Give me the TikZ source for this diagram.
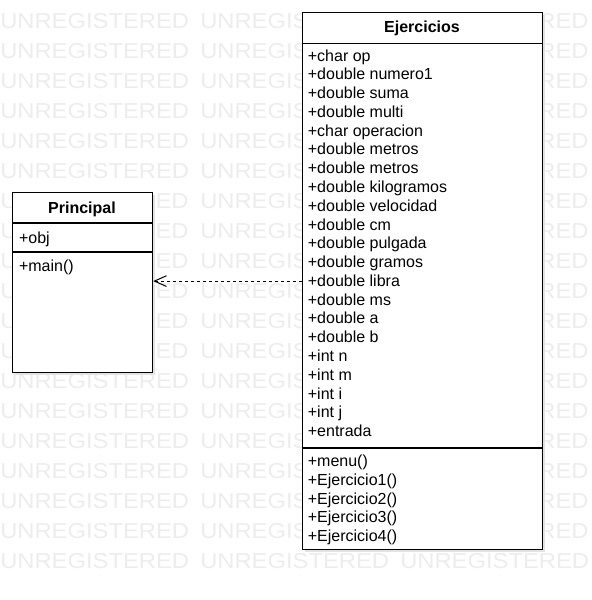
\documentclass[tikz,border=0pt]{standalone}
\usepackage{fontspec}
\setmainfont{Liberation Sans}
\usetikzlibrary{arrows.meta}
\newcommand{\wmw}[1]{\scalebox{1.1}[1]{#1}}
\begin{document}
\begin{tikzpicture}[x=0.75pt,y=-0.75pt,
  wm/.style={anchor=base west, inner sep=0, text=black!7, font=\fontsize{16.2}{16.2}\selectfont},
  wmend/.style={wm, anchor=base east},
  umlbox/.style={draw=black, line width=0.9pt, fill=white, anchor=north west, inner sep=0},
  shadowbox/.style={fill=black!11, anchor=north west, inner sep=0, draw=none},
  member/.style={anchor=base west, inner sep=0, font=\fontsize{12}{14}\selectfont},
  umltitle/.style={anchor=base, inner sep=0, font=\bfseries\fontsize{12}{14}\selectfont},
  sep/.style={line width=0.9pt},
  dep/.style={line width=0.75pt, dash pattern=on 2.5pt off 2pt, -{Straight Barb[length=9pt,width=8pt]}}]
\useasboundingbox (0,0) rectangle (592,600);
\fill[white] (0,0) rectangle (592,600);
% watermark, column 1
\foreach \r in {0,...,5,12,13,...,18} {
  \node[wm] (wa\r) at (0,{28.5+30*\r}) {\wmw{UNREGISTERED}};
}
\foreach \r in {6,...,11} {
  \node[wm] (wa\r) at (0,{28.5+30*\r}) {\wmw{U}};
  \node[wmend] (wb\r) at (188.8,{28.5+30*\r}) {\wmw{ED}};
}
% watermark, columns 2 and 3
\foreach \r in {0,...,17} {
  \node[wm] (wc\r) at (200,{28.5+30*\r}) {\wmw{UNREGIS}};
  \node[wmend] (wd\r) at (588.8,{28.5+30*\r}) {\wmw{RED}};
}
\node[wm] (wc18) at (200,568.5) {\wmw{UNREGISTERED}};
\node[wm] (wd18) at (400,568.5) {\wmw{UNREGISTERED}};
% shadows
\node[shadowbox, minimum width=105pt, minimum height=135pt] (prs) at (15,195) {};
\node[shadowbox, minimum width=180pt, minimum height=402.75pt] (ejs) at (305,15) {};
% boxes
\node[umlbox, minimum width=105pt, minimum height=135pt] (pr) at (12,192) {};
\node[umlbox, minimum width=180pt, minimum height=402.75pt] (ej) at (302,12) {};
% separators
\draw[sep] (12,223) -- (152,223);
\draw[sep] (12,252) -- (152,252);
\draw[sep] (302,43.3) -- (542,43.3);
\draw[sep] (302,448) -- (542,448);
% titles
\node[umltitle] (prt) at (82,213) {Principal};
\node[umltitle] (ejt) at (422,32.3) {Ejercicios};
% Principal members
\node[member] (pa0) at (18.8,243) {+obj};
\node[member] (pm0) at (18.8,271.7) {+main()};
% Ejercicios attributes
\foreach \t [count=\i from 0] in {+char op,+double numero1,+double suma,+double multi,+char operacion,+double metros,+double metros,+double kilogramos,+double velocidad,+double cm,+double pulgada,+double gramos,+double libra,+double ms,+double a,+double b,+int n,+int m,+int i,+int j,+entrada} {
  \node[member] (ea\i) at (307.6,{61+18.78*\i}) {\t};
}
% Ejercicios methods
\foreach \t [count=\i from 0] in {+menu(),+Ejercicio1(),+Ejercicio2(),+Ejercicio3(),+Ejercicio4()} {
  \node[member] (em\i) at (307.6,{466.7+18.75*\i}) {\t};
}
% dependency
\draw[dep] (ej.west) -- (pr.east |- ej.west);
\end{tikzpicture}
\end{document}
